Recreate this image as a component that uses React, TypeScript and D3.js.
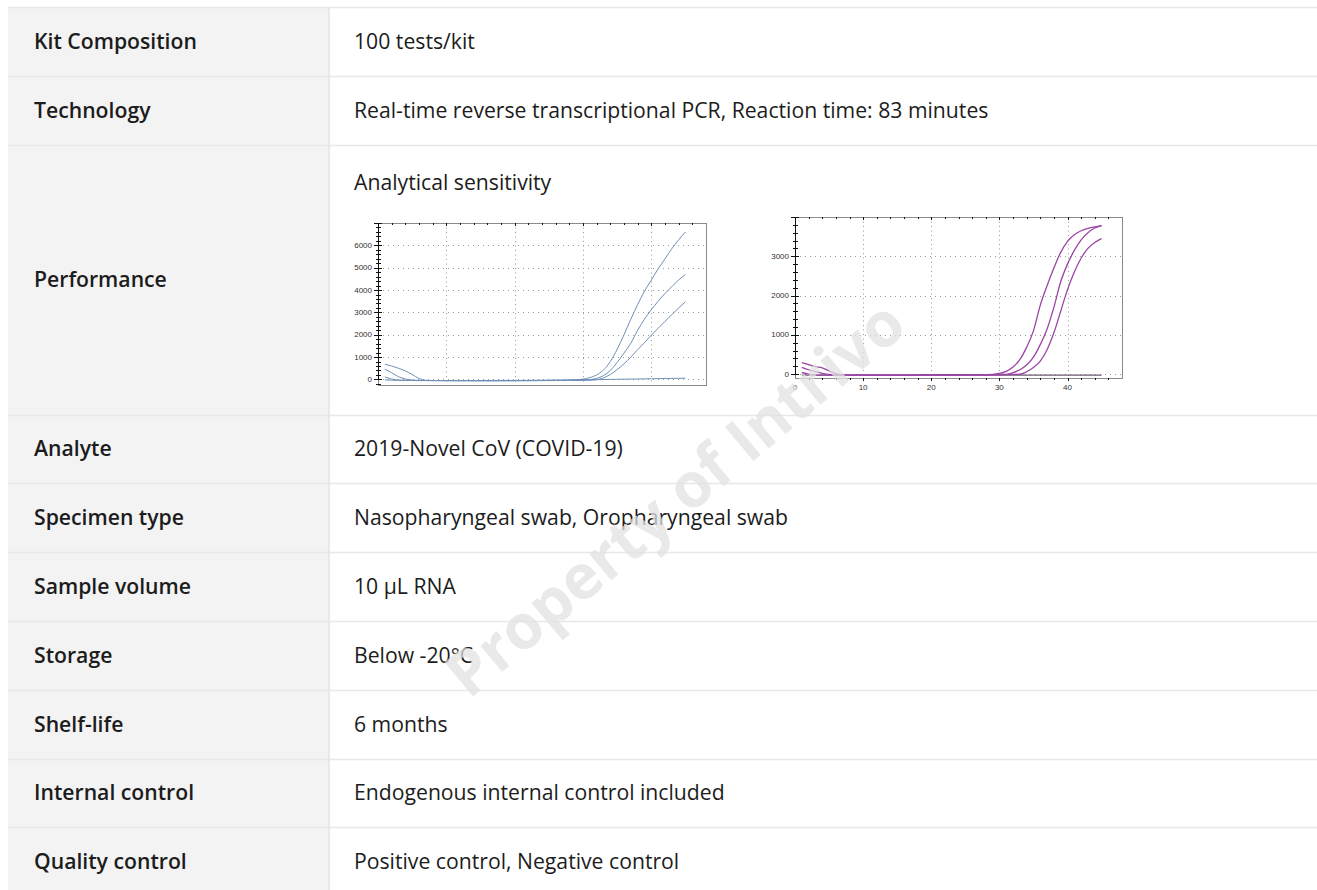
import React from 'react';
import * as d3 from 'd3';

// table content
const rowLabels = [
  'Kit Composition', 'Technology', 'Performance', 'Analyte', 'Specimen type',
  'Sample volume', 'Storage', 'Shelf-life', 'Internal control', 'Quality control',
];
const rowValues = [
  '100 tests/kit',
  'Real-time reverse transcriptional PCR, Reaction time: 83 minutes',
  'Analytical sensitivity',
  '2019-Novel CoV (COVID-19)',
  'Nasopharyngeal swab, Oropharyngeal swab',
  '10 μL RNA',
  'Below -20°C',
  '6 months',
  'Endogenous internal control included',
  'Positive control, Negative control',
];

// PCR cycles 1..45
const cycles = d3.range(1, 46);

// left chart (blue) fluorescence per cycle
const blueA = [680, 600, 500, 380, 220, 40, -40, -50, -52, -54, -55, -56, -56, -57, -57, -57, -56, -56, -55, -54, -53, -52, -50, -48, -46, -43, -38, -30, -15, 15, 80, 200, 420, 800, 1350, 2000, 2700, 3350, 3950, 4450, 4950, 5400, 5850, 6250, 6600];
const blueB = [460, 300, 120, 20, -30, -45, -50, -52, -53, -54, -55, -56, -56, -57, -57, -57, -57, -56, -56, -55, -54, -53, -52, -50, -49, -47, -45, -42, -38, -30, -10, 50, 170, 400, 760, 1180, 1620, 2200, 2700, 3120, 3500, 3850, 4150, 4450, 4700];
const blueC = [110, 20, -30, -45, -50, -52, -53, -54, -55, -56, -56, -57, -57, -58, -58, -58, -58, -57, -57, -56, -56, -55, -54, -53, -52, -51, -50, -48, -46, -42, -35, -15, 70, 220, 440, 700, 1000, 1330, 1650, 1980, 2290, 2600, 2900, 3200, 3480];
const blueD = [-20, -35, -42, -46, -48, -50, -50, -50, -50, -50, -50, -49, -49, -48, -48, -47, -46, -45, -44, -43, -42, -40, -38, -36, -34, -32, -30, -27, -24, -20, -15, -10, -5, 0, 5, 10, 15, 20, 25, 30, 35, 40, 45, 50, 55];

// right chart (purple)
const purpleA = [290, 240, 190, 160, 80, 10, -20, -25, -25, -25, -25, -25, -25, -25, -25, -25, -25, -24, -24, -24, -23, -23, -22, -21, -20, -19, -17, -14, -8, 15, 70, 180, 370, 680, 1100, 1750, 2250, 2700, 3100, 3380, 3550, 3650, 3710, 3750, 3780];
const purpleB = [170, 110, 60, 20, -10, -20, -25, -25, -25, -25, -25, -25, -25, -25, -25, -25, -25, -24, -24, -24, -24, -23, -23, -22, -22, -21, -20, -18, -16, -12, -8, 35, 110, 230, 430, 750, 1150, 1700, 2350, 2800, 3150, 3420, 3600, 3720, 3780];
const purpleC = [40, 0, -20, -25, -25, -25, -25, -25, -25, -25, -25, -25, -25, -25, -25, -25, -25, -25, -25, -25, -25, -25, -24, -24, -23, -22, -21, -20, -18, -16, -14, -10, -5, 60, 170, 330, 620, 1050, 1600, 2150, 2600, 2950, 3200, 3350, 3450];
const purpleD = [-25, -25, -25, -25, -25, -25, -25, -25, -25, -25, -25, -25, -25, -25, -25, -25, -25, -25, -25, -25, -25, -25, -25, -25, -25, -25, -25, -25, -25, -25, -25, -25, -25, -25, -25, -25, -25, -25, -25, -25, -25, -25, -25, -25, -25];

const blueTicks = [0, 1000, 2000, 3000, 4000, 5000, 6000];
const purpleTicks = [0, 1000, 2000, 3000];
const cycleTicks = [0, 10, 20, 30, 40];

const TEXT = '"Open Sans", "Noto Sans", sans-serif';
const AXIS_FONT = '"Liberation Sans", Arial, sans-serif';

type ChartProps = {
  left: number; right: number; top: number; bottom: number;
  yDomain: [number, number];
  yTicks: number[];
  series: number[][];
  colors: string[];
  lw: number;
  xLabels: boolean;
};

const AmpChart = ({ left, right, top, bottom, yDomain, yTicks, series, colors, lw, xLabels }: ChartProps) => {
  const x = d3.scaleLinear().domain([0, 48]).range([left, right]);
  const y = d3.scaleLinear().domain(yDomain).range([bottom, top]);
  const line = d3.line<number>()
    .x((_, i) => x(cycles[i]))
    .y(d => y(d))
    .curve(d3.curveMonotoneX);

  const minorY = d3.range(Math.ceil(yDomain[0] / 200) * 200, yDomain[1] + 1, 200);
  const minorX = d3.range(2, 48, 2);

  return (
    <g>
      {yTicks.map(t => (
        <line key={'gy' + t} x1={left} x2={right} y1={Math.round(y(t)) + 0.5} y2={Math.round(y(t)) + 0.5}
          stroke="#9a9a9a" strokeDasharray="1,4" />
      ))}
      {cycleTicks.filter(t => t > 0).map(t => (
        <line key={'gx' + t} x1={Math.round(x(t)) + 0.5} x2={Math.round(x(t)) + 0.5} y1={top} y2={bottom}
          stroke="#9a9a9a" strokeDasharray="1,3.5" />
      ))}
      <rect x={left + 0.5} y={top + 0.5} width={right - left} height={bottom - top}
        fill="none" stroke="#8a8a8a" strokeWidth={1} shapeRendering="crispEdges" />
      <line x1={left + 0.5} x2={left + 0.5} y1={top} y2={y(0)} stroke="#111" shapeRendering="crispEdges" />
      {minorY.map(t => {
        const major = t % 1000 === 0;
        return (
          <line key={'ty' + t} x1={left - (major ? 4 : 2)} x2={left + (major ? 4 : 3)}
            y1={Math.round(y(t)) + 0.5} y2={Math.round(y(t)) + 0.5}
            stroke="#111" shapeRendering="crispEdges" />
        );
      })}
      {minorX.map(t => (
        <line key={'tx' + t} x1={Math.round(x(t)) + 0.5} x2={Math.round(x(t)) + 0.5}
          y1={top} y2={top + (t % 10 === 0 ? 3 : 2)} stroke="#111" shapeRendering="crispEdges" />
      ))}
      {xLabels && minorX.map(t => (
        <line key={'bx' + t} x1={Math.round(x(t)) + 0.5} x2={Math.round(x(t)) + 0.5}
          y1={bottom} y2={bottom + (t % 10 === 0 ? 3 : 2)} stroke="#111" shapeRendering="crispEdges" />
      ))}
      {series.map((s, i) => (
        <path key={'s' + i} d={line(s) || ''} fill="none" stroke={colors[i]} strokeWidth={lw} />
      ))}
      {yTicks.map(t => (
        <text key={'ly' + t} x={left - 6} y={y(t)} dy="0.33em" textAnchor="end"
          fontSize={8} fontFamily={AXIS_FONT} fill="#333">{t}</text>
      ))}
      {xLabels && cycleTicks.map(t => (
        <text key={'lx' + t} x={x(t)} y={bottom + 12} textAnchor="middle"
          fontSize={8} fontFamily={AXIS_FONT} fill="#333">{t}</text>
      ))}
    </g>
  );
};

export default function App() {
  const W = 1317;
  const H = 890;
  const tableLeft = 8;
  const colSplit = 329;
  const rowH = 68.8;
  const perfH = 270;
  const rowTops: number[] = [];
  let acc = 7;
  rowLabels.forEach((_, i) => {
    rowTops.push(acc);
    acc += i === 2 ? perfH : rowH;
  });
  const rowHeights = rowLabels.map((_, i) => (i === 2 ? perfH : rowH));

  const blue = '#6f90b8';
  const purple = '#9b45a5';

  return (
    <svg width={W} height={H} style={{ position: 'absolute', left: 0, top: 0, display: 'block' }}>
      <rect x={0} y={0} width={W} height={H} fill="#fff" />
      <rect x={tableLeft} y={7} width={colSplit - tableLeft} height={H} fill="#f3f3f3" />
      <line x1={colSplit} x2={colSplit} y1={7} y2={H} stroke="#e9e9e9" strokeWidth={2} />
      {rowTops.map((t, i) => (
        <line key={'r' + i} x1={tableLeft} x2={W} y1={Math.round(t) + 0.5} y2={Math.round(t) + 0.5}
          stroke="#e8e8e8" strokeWidth={1.5} />
      ))}
      {rowLabels.map((lab, i) => (
        <text key={'l' + i} x={34} y={rowTops[i] + rowHeights[i] / 2} dy="0.35em"
          fontFamily={TEXT} fontSize={21.2} fontWeight={600} fill="#1c1c1c">{lab}</text>
      ))}
      {rowValues.map((v, i) => (
        <text key={'v' + i} x={354}
          y={i === 2 ? rowTops[i] + 38 : rowTops[i] + rowHeights[i] / 2} dy="0.35em"
          fontFamily={TEXT} fontSize={21.2} fill="#1c1c1c">{v}</text>
      ))}
      <AmpChart left={378} right={706} top={223} bottom={385} yDomain={[-250, 7000]}
        yTicks={blueTicks} series={[blueD, blueC, blueB, blueA]} colors={[blue, blue, blue, blue]}
        lw={1} xLabels={false} />
      <AmpChart left={795} right={1122} top={217} bottom={378} yDomain={[-100, 4000]}
        yTicks={purpleTicks} series={[purpleD, purpleC, purpleB, purpleA]}
        colors={['#6a5a70', purple, purple, purple]} lw={1.3} xLabels={true} />
      <text x={689} y={515} textAnchor="middle" transform="rotate(-40 689 515)"
        fontFamily={TEXT} fontSize={62} fontWeight={700} fill="#e2e2e2" fillOpacity={0.75}
        style={{ pointerEvents: 'none' }}>Property of Intrivo</text>
    </svg>
  );
}
